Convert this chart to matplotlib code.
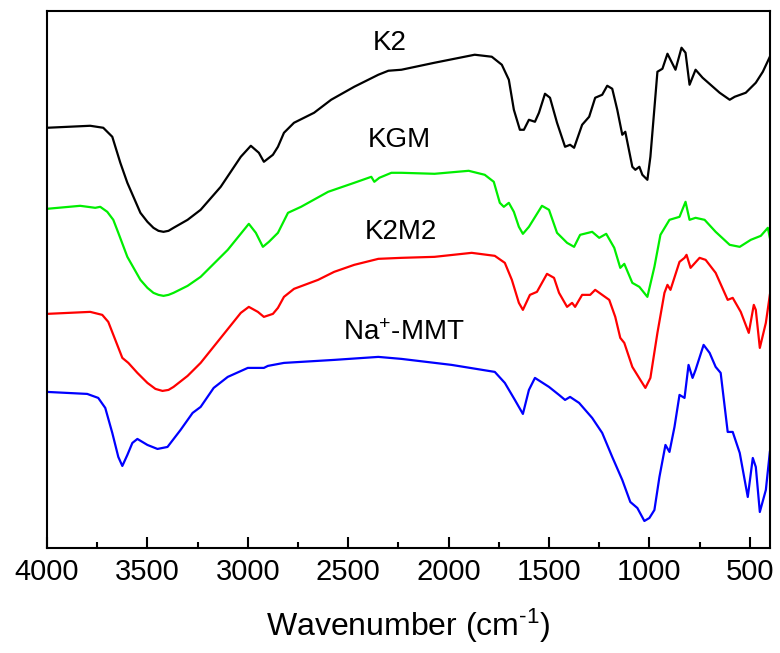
# FTIR spectra of K2, KGM, K2M2 and Na+-MMT

import matplotlib.pyplot as plt
from matplotlib.ticker import MultipleLocator

plt.rcParams['font.family'] = ['Liberation Sans', 'DejaVu Sans']
plt.rcParams['mathtext.fontset'] = 'custom'
plt.rcParams['mathtext.rm'] = 'Liberation Sans'
plt.rcParams['mathtext.it'] = 'Liberation Sans:italic'

# K2 (black)
k2_wn = [4000, 3785, 3720, 3675, 3635, 3600, 3535, 3500, 3470, 3445, 3420, 3395, 3370, 3300,
         3235, 3135, 3035, 2985,
         2945, 2920, 2875, 2850, 2820, 2770, 2670, 2585, 2470, 2350, 2300, 2235, 2070, 1870,
         1785, 1735, 1700, 1675, 1645, 1625, 1600, 1570, 1550, 1520, 1495, 1460, 1420, 1395,
         1375, 1335, 1300, 1270, 1235, 1210, 1185, 1160, 1135, 1120, 1085, 1070, 1050, 1035,
         1010, 995, 960, 935, 910, 895, 870, 840, 820, 800, 770, 735, 650, 600, 575, 520,
         470, 435, 400]
k2_t = [420, 422, 420, 411, 385, 365, 335, 326, 320, 317, 316, 317, 320, 328,
        338, 361, 391, 402,
        395, 386, 393, 401, 415, 425, 435, 448, 461, 473, 477, 478, 485, 493,
        491, 483, 468, 438, 418, 418, 428, 426, 435, 454, 450, 425, 401, 403,
        400, 423, 431, 450, 453, 462, 459, 438, 413, 416, 381, 378, 381, 373,
        368, 391, 476, 479, 494, 488, 478, 500, 495, 463, 478, 470, 455, 448, 451, 455,
        465, 476, 491]

# KGM (green)
kgm_wn = [4000, 3835, 3760, 3735, 3700, 3670, 3645, 3600, 3535, 3500, 3470, 3445, 3420, 3395,
          3370, 3300, 3235, 3100,
          2995, 2960, 2925, 2895, 2850, 2800, 2735, 2600, 2470, 2385, 2370, 2345, 2285, 2235,
          2070, 1900, 1820, 1775, 1745, 1725, 1700, 1675, 1650, 1630, 1600, 1535, 1500, 1460,
          1410, 1375, 1345, 1285, 1250, 1215, 1175, 1145, 1125, 1085, 1050, 1010, 975, 945,
          900, 850, 820, 800, 770, 725, 670, 600, 550, 495, 445, 410, 400]
kgm_t = [339, 342, 340, 341, 336, 328, 315, 291, 268, 260, 255, 253, 252, 253,
         255, 262, 271, 298,
         324, 315, 301, 306, 315, 335, 341, 356, 365, 371, 366, 370, 375, 375,
         374, 377, 373, 366, 345, 341, 345, 336, 321, 314, 321, 342, 338, 315,
         305, 301, 313, 316, 310, 314, 300, 280, 284, 265, 261, 251, 281, 313,
         328, 331, 346, 328, 330, 328, 316, 303, 301, 308, 312, 320, 310]

# K2M2 (red)
k2m2_wn = [4000, 3785, 3725, 3695, 3660, 3625, 3595, 3550, 3500, 3460, 3425, 3395, 3370, 3300,
           3235, 3135, 3035,
           2995, 2950, 2920, 2875, 2850, 2820, 2770, 2650, 2570, 2470, 2350, 2235, 2070, 1885,
           1770, 1720, 1685, 1650, 1630, 1595, 1560, 1510, 1475, 1450, 1410, 1385, 1370, 1335,
           1295, 1270, 1235, 1200, 1170, 1145, 1125, 1085, 1045, 1020, 995, 960, 925, 910,
           895, 850, 825, 815, 795, 750, 720, 670, 610, 585, 545, 505, 480, 470, 450, 420, 400]
k2m2_t = [234, 236, 233, 226, 208, 190, 185, 175, 165, 159, 157, 158, 161, 172,
          185, 210, 235,
          241, 236, 231, 234, 240, 251, 259, 268, 276, 283, 289, 290, 291, 295,
          292, 285, 268, 245, 238, 253, 256, 274, 270, 255, 241, 245, 241, 253,
          253, 258, 253, 248, 231, 210, 205, 181, 168, 160, 170, 215, 255, 263,
          258, 286, 290, 293, 280, 290, 288, 275, 248, 250, 236, 215, 243, 238, 200, 225, 253]

# Na+-MMT (blue)
mmt_wn = [4000, 3800, 3745, 3710, 3675, 3645, 3625, 3600, 3575, 3550, 3500, 3450, 3400, 3335,
          3275, 3235, 3170, 3100, 3000, 2920, 2900, 2820, 2570, 2350, 2235, 1985, 1770, 1720,
          1670, 1630, 1600, 1570, 1500, 1450, 1420, 1395, 1350, 1285, 1235, 1185, 1135, 1095,
          1060, 1025, 1000, 975, 950, 920, 900, 875, 850, 825, 805, 785, 770, 730, 700, 670,
          645, 610, 585, 550, 510, 485, 470, 450, 420, 400]
mmt_t = [156, 154, 150, 140, 115, 91, 82, 93, 105, 109, 103, 99, 101, 118,
         135, 141, 160, 171, 180, 180, 182, 185, 188, 191, 189, 183, 176, 165,
         148, 134, 158, 170, 161, 153, 148, 151, 145, 130, 115, 91, 68, 46,
         40, 27, 30, 38, 71, 103, 96, 121, 153, 150, 183, 170, 178, 203, 195, 181,
         175, 116, 116, 95, 51, 90, 81, 36, 58, 96]

fig = plt.figure(figsize=(7.8, 6.53), dpi=100)
ax = fig.add_axes([0.0603, 0.1608, 0.9267, 0.8228])

ax.plot(k2_wn, k2_t, color="black", lw=1.6)
ax.plot(kgm_wn, kgm_t, color="#00ee00", lw=1.6)
ax.plot(k2m2_wn, k2m2_t, color="red", lw=1.6)
ax.plot(mmt_wn, mmt_t, color="blue", lw=1.6)

ax.text(2380, 505, "K2", fontsize=20, va="center")
ax.text(2405, 408, "KGM", fontsize=20, va="center")
ax.text(2420, 316, "K2M2", fontsize=20, va="center")
ax.text(2525, 215, r"Na$^{\mathregular{+}}$-MMT", fontsize=20, va="center")

ax.set_xlim(4000, 400)
ax.set_ylim(0, 537)
ax.xaxis.set_major_locator(MultipleLocator(500))
ax.xaxis.set_minor_locator(MultipleLocator(250))
ax.tick_params(axis="x", which="major", direction="in", length=8, width=1.5,
               labelsize=21, pad=7, top=False)
ax.tick_params(axis="x", which="minor", direction="in", length=4, width=1.5, top=False)
ax.set_yticks([])
for s in ax.spines.values():
    s.set_linewidth(1.5)

ax.set_xlabel(r"Wavenumber (cm$^{\text{-}1}$)", fontsize=23, labelpad=15)

fig.savefig("out.png", dpi=100)
